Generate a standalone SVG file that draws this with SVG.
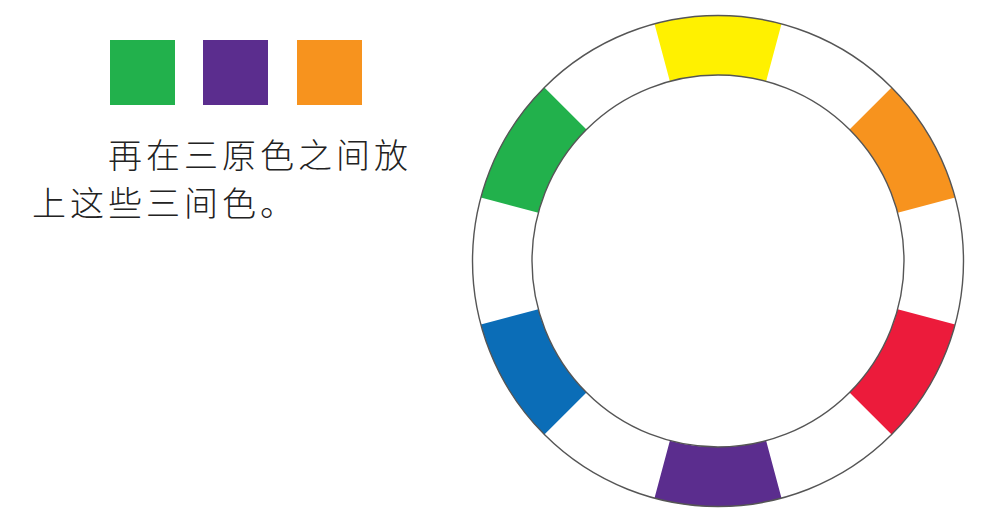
<svg xmlns="http://www.w3.org/2000/svg" width="1000" height="532" viewBox="0 0 1000 532">
<style>
  .txt { font-family: "Noto Sans CJK SC", "Noto Sans CJK TC", sans-serif; font-size: 34px; font-weight: 300; fill: #222; letter-spacing: 4px; }
  .ring { fill: none; stroke: #555; stroke-width: 1.4; }
  .green { fill: #22B14C; }
  .purple { fill: #5B2D8E; }
  .orange { fill: #F7931E; }
  .yellow { fill: #FFF100; }
  .red { fill: #EC1B3B; }
  .blue { fill: #0B6DB7; }
</style>
<rect width="1000" height="532" fill="#ffffff"/>
<g id="swatches">
  <rect id="swatch-green" class="green" x="110" y="40" width="65" height="65"/>
  <rect id="swatch-purple" class="purple" x="203" y="40" width="65" height="65"/>
  <rect id="swatch-orange" class="orange" x="297" y="40" width="65" height="65"/>
</g>
<g id="caption">
  <text class="txt" x="108" y="168">再在三原色之间放</text>
  <text class="txt" x="32" y="216">上这些三间色。</text>
</g>
<g id="color-wheel">
  <path id="seg-yellow" class="yellow" d="M 781.54 23.86 A 245.5 245.5 0 0 0 654.46 23.86 L 669.86 81.34 A 186 186 0 0 1 766.14 81.34 Z"/>
  <path id="seg-orange" class="orange" d="M 955.14 197.46 A 245.5 245.5 0 0 0 891.60 87.40 L 849.52 129.48 A 186 186 0 0 1 897.66 212.86 Z"/>
  <path id="seg-red" class="red" d="M 891.60 434.60 A 245.5 245.5 0 0 0 955.14 324.54 L 897.66 309.14 A 186 186 0 0 1 849.52 392.52 Z"/>
  <path id="seg-purple" class="purple" d="M 654.46 498.14 A 245.5 245.5 0 0 0 781.54 498.14 L 766.14 440.66 A 186 186 0 0 1 669.86 440.66 Z"/>
  <path id="seg-blue" class="blue" d="M 480.86 324.54 A 245.5 245.5 0 0 0 544.40 434.60 L 586.48 392.52 A 186 186 0 0 1 538.34 309.14 Z"/>
  <path id="seg-green" class="green" d="M 544.40 87.40 A 245.5 245.5 0 0 0 480.86 197.46 L 538.34 212.86 A 186 186 0 0 1 586.48 129.48 Z"/>
  <circle id="outer-ring" class="ring" cx="718" cy="261" r="245.5"/>
  <circle id="inner-ring" class="ring" cx="718" cy="261" r="186"/>
</g>
</svg>
